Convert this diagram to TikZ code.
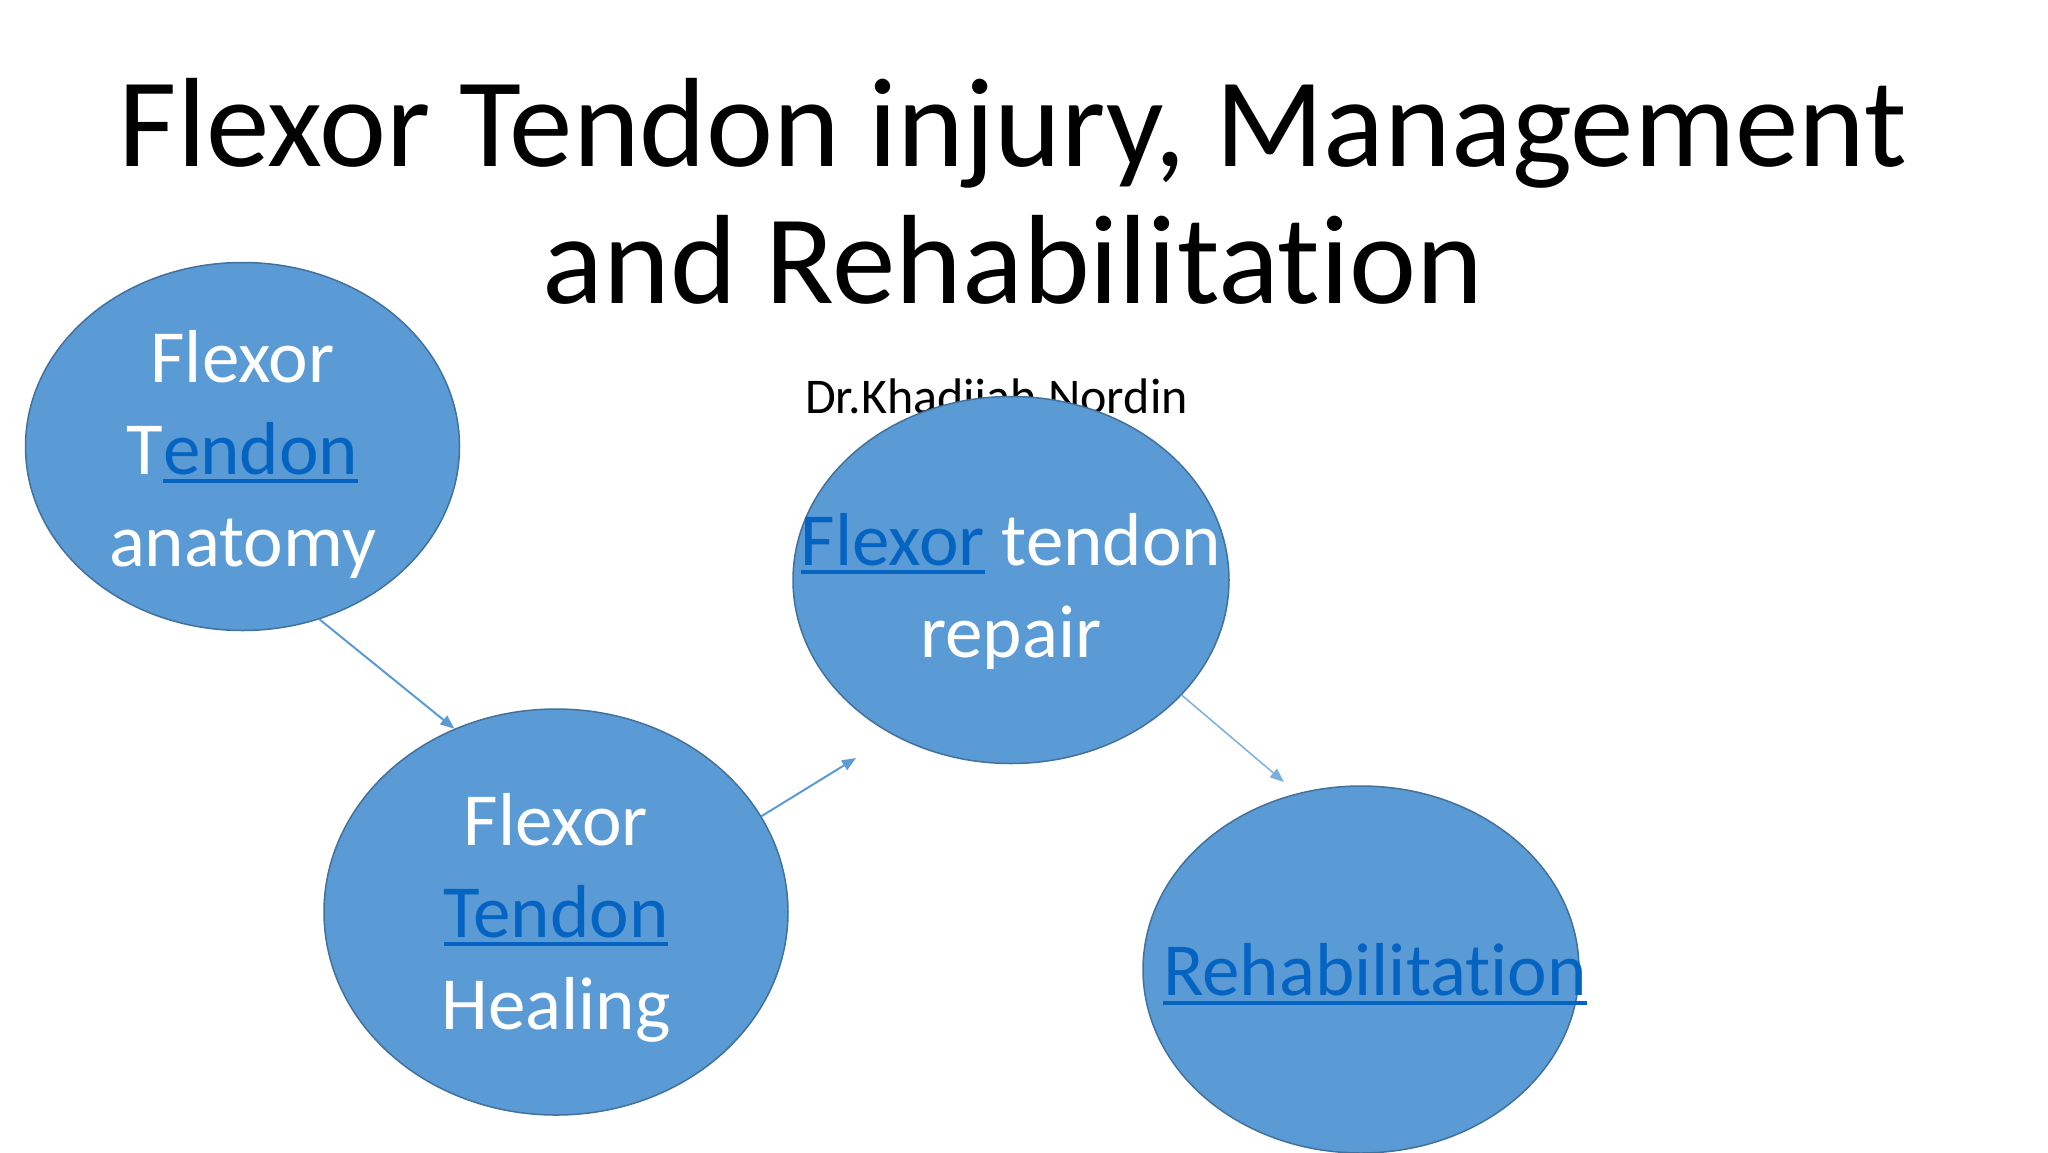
\documentclass[tikz,border=0pt]{standalone}
\usepackage{fontspec}
\setmainfont{Carlito}[Ligatures=NoCommon]
\usetikzlibrary{arrows.meta,shapes.geometric}
\definecolor{bubfill}{HTML}{5B9BD5}
\definecolor{bubline}{HTML}{41719C}
\definecolor{linkblue}{HTML}{0563C1}
\definecolor{arrowblue}{HTML}{5B9BD5}
\newcommand{\lnk}[1]{\setbox0=\hbox{#1}\rlap{\color{linkblue}\rule[-9pt]{\wd0}{4pt}}{\color{linkblue}#1}}
\begin{document}
\begin{tikzpicture}[x=1pt,y=-1pt,
  bub/.style={ellipse, fill=bubfill, draw=bubline, line width=1.5pt, inner sep=0pt},
  bubtext/.style={text=white, align=center, font=\fontsize{75}{92}\selectfont, anchor=base, inner sep=0pt},
  titletext/.style={text=black, align=center, font=\fontsize{127}{137}\selectfont, anchor=base, inner sep=0pt},
  authortext/.style={text=black, font=\fontsize{50}{60}\selectfont, anchor=base, inner sep=0pt},
  conn/.style={draw=arrowblue, line width=2pt, -{Triangle[length=14pt,width=11pt]}},
  connlight/.style={draw=arrowblue!80, line width=1.5pt, -{Triangle[length=14pt,width=11pt]}}
]
\useasboundingbox (0,0) rectangle (2048,1152);
\clip (0,0) rectangle (2048,1152);
\fill[white] (0,0) rectangle (2048,1152);
\node[titletext] (title) at (1013,303) {Flexor Tendon injury, Management\\and Rehabilitation};
\node[authortext] (author) at (996.5,413) {Dr.Khadijah Nordin};
\node[bub, minimum width=434pt, minimum height=368pt] (e1) at (242.5,446.5) {};
\node[bub, minimum width=464pt, minimum height=406pt] (e2) at (556,912) {};
\node[bub, minimum width=436pt, minimum height=367pt] (e3) at (1011,580) {};
\node[bub, minimum width=436pt, minimum height=367pt] (e4) at (1361,969.5) {};
\node[bubtext] (t1) at (242.5,566) {Flexor\\T\lnk{endon}\\anatomy};
\node[bubtext] (t2) at (556,1029) {Flexor\\\lnk{Tendon}\\Healing};
\node[bubtext] (t3) at (1011,657) {\lnk{Flexor} tendon\\repair};
\node[bubtext] (t4) at (1375,995.5) {\lnk{Rehabilitation}};
\coordinate (a2end) at (856,758);
\coordinate (a3end) at (1284,782);
\draw[conn] (e1.-66.4) -- (e2.119.9);
\draw[conn] (e2.25.5) -- (a2end);
\draw[connlight] (e3.-34.2) -- (a3end);
\end{tikzpicture}
\end{document}
